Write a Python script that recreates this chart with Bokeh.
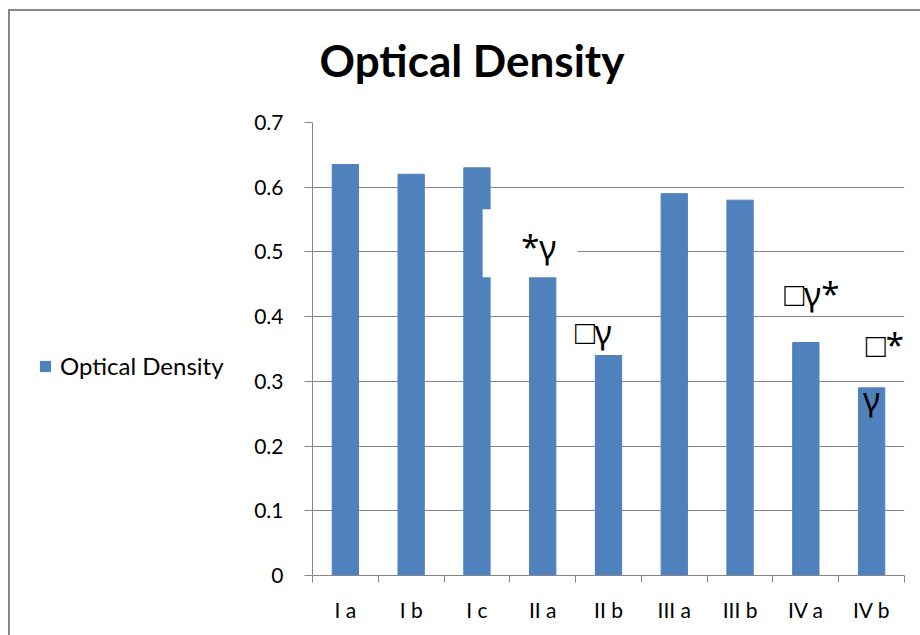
from bokeh.plotting import figure
from bokeh.layouts import row
from bokeh.models import (Range1d, FixedTicker, NumeralTickFormatter, Legend, LegendItem,
                          BoxAnnotation, Label, Title, ColumnDataSource)
from bokeh.embed import file_html
from bokeh.resources import INLINE

categories = ["I a", "I b", "I c", "II a", "II b", "III a", "III b", "IV a", "IV b"]
values = [0.635, 0.62, 0.63, 0.462, 0.34, 0.59, 0.58, 0.36, 0.29]
y_ticks = [0, 0.1, 0.2, 0.3, 0.4, 0.5, 0.6, 0.7]
series_name = "Optical Density"

# significance marks (text, x in category units, baseline y in data units)
marks = ["*\u03b3", "\u25a1\u03b3", "\u25a1\u03b3*", "\u25a1*", "\u03b3"]
mark_x = [3.44, 4.27, 7.59, 8.70, 8.50]
mark_y = [0.509, 0.377, 0.435, 0.357, 0.273]

FONT = "Lato"
GRID = "#868686"
BAR = "#4F81BD"

H = 624
LW, PW = 241, 669

# ---------------- main chart ----------------
p = figure(width=PW, height=H, output_backend="svg", toolbar_location=None,
           x_range=Range1d(0, len(categories)), y_range=Range1d(0, 0.7),
           min_border_left=60, min_border_right=16, min_border_top=111, min_border_bottom=60)
p.outline_line_color = None
p.background_fill_color = "white"
p.border_fill_color = "white"

xs = [i + 0.5 for i in range(len(categories))]
src = ColumnDataSource(dict(x=xs, top=values, cat=categories))
bars = p.vbar(x="x", top="top", width=0.4, source=src, fill_color=BAR, line_color=BAR)

# spacer title (closest to the frame) then the real title
p.add_layout(Title(text=" ", text_font_size="10px", standoff=24), "above")
p.title.text = "Optical Density"
p.title.text_font = FONT
p.title.text_font_size = "44px"
p.title.text_font_style = "bold"
p.title.text_color = "black"
p.title.align = "left"
p.title.offset = 7
p.title.standoff = 0

# y axis
p.yaxis.ticker = FixedTicker(ticks=y_ticks)
p.yaxis.formatter = NumeralTickFormatter(format="0.[0]")
p.yaxis.axis_line_color = GRID
p.yaxis.major_tick_line_color = GRID
p.yaxis.major_tick_out = 8
p.yaxis.major_tick_in = 0
p.yaxis.minor_tick_line_color = None
p.yaxis.major_label_standoff = 21
p.yaxis.major_label_text_font = FONT
p.yaxis.major_label_text_font_size = "21px"
p.yaxis.major_label_text_color = "black"

# x axis: labels at centres, tick marks at boundaries
p.xaxis.ticker = FixedTicker(ticks=xs, minor_ticks=list(range(len(categories) + 1)))
p.xaxis.major_label_overrides = {x: c for x, c in zip(xs, categories)}
p.xaxis.axis_line_color = GRID
p.xaxis.major_tick_line_color = None
p.xaxis.major_tick_out = 0
p.xaxis.major_tick_in = 0
p.xaxis.minor_tick_line_color = GRID
p.xaxis.minor_tick_out = 7
p.xaxis.minor_tick_in = 0
p.xaxis.major_label_standoff = 14
p.xaxis.major_label_text_font = FONT
p.xaxis.major_label_text_font_size = "21px"
p.xaxis.major_label_text_color = "black"

p.xgrid.grid_line_color = None
p.ygrid.ticker = FixedTicker(ticks=y_ticks)
p.ygrid.grid_line_color = GRID
p.ygrid.grid_line_width = 1

# white label background covering part of the I c bar
p.add_layout(BoxAnnotation(left=2.587, right=4.03, bottom=0.461, top=0.566,
                           fill_color="white", fill_alpha=1, line_color=None))

for t, mx, my in zip(marks, mark_x, mark_y):
    p.add_layout(Label(x=mx, y=my, text=t, text_align="center", text_baseline="alphabetic",
                       text_font="Noto Sans", text_font_size="33px", text_color="black"))

# ---------------- legend panel (left of the chart) ----------------
lg = figure(width=LW, height=H, output_backend="svg", toolbar_location=None,
            x_range=Range1d(0, 1), y_range=Range1d(0, 1),
            x_axis_type=None, y_axis_type=None,
            min_border_left=0, min_border_right=0, min_border_top=0, min_border_bottom=0)
lg.outline_line_color = None
lg.xgrid.grid_line_color = None
lg.ygrid.grid_line_color = None
lg.border_fill_color = "white"
# zero-size swatch renderer: nothing is drawn in the plot, only its legend entry is shown
swatch = lg.vbar(x=[0.5], bottom=[0.5], top=[0.5], width=0, fill_color=BAR, line_color=None)
legend = Legend(items=[LegendItem(label=series_name, renderers=[swatch])],
                location=(28, 195), orientation="vertical",
                border_line_color=None, background_fill_alpha=0,
                padding=0, margin=0, spacing=0,
                glyph_width=14, glyph_height=14, label_standoff=8, label_height=26,
                label_text_font=FONT, label_text_font_size="24px",
                label_text_color="black")
lg.add_layout(legend)

layout = row(lg, p, spacing=0)
layout.styles = {"border-left": "2px solid #868686", "border-top": "2px solid #868686",
                 "margin-left": "8px", "margin-top": "9px"}

open("out.html", "w").write(file_html(layout, INLINE))
